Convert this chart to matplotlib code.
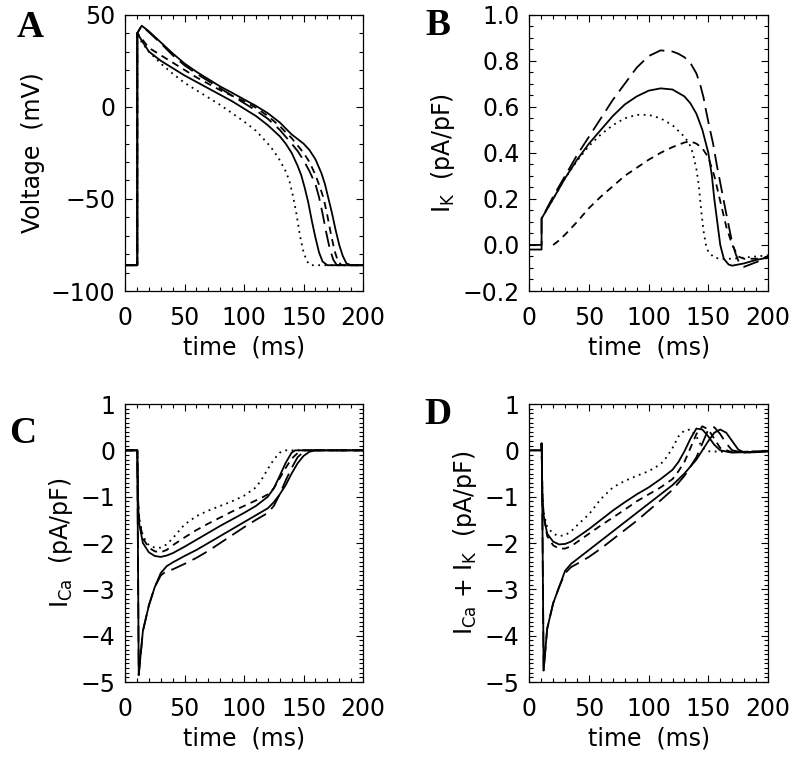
import numpy as np
import matplotlib
matplotlib.use('Agg')
import matplotlib.pyplot as plt
from matplotlib.ticker import MultipleLocator

plt.rcParams['font.family'] = 'DejaVu Sans'
plt.rcParams['mathtext.fontset'] = 'dejavusans'

# line styles for the five model runs
SOLID = '-'
DOT = (0, (1, 2.5))
DASH = (0, (4, 3))
LDASH = (0, (9, 4))

# ---- panel A : voltage (mV) ----
tA_s2 = [0, 10.3, 10.3, 14, 20, 30, 40, 50, 60, 70, 80, 90, 100, 110, 120, 130, 140, 145, 150, 155, 160, 165, 168, 171, 174, 177, 180, 183, 186, 190, 200]
vA_s2 = [-86, -86, 40, 44, 41, 35, 29, 23.5, 19, 15, 11, 7.6, 4, 0.5, -3.5, -8.5, -15, -17.5, -20, -23.5, -28.5, -36, -42, -50, -58, -67, -75, -81, -85, -86, -86]
tA_s1 = [0, 10.3, 10.3, 14, 20, 30, 40, 50, 60, 70, 80, 90, 100, 110, 120, 130, 135, 140, 145, 148, 151, 154, 157, 160, 163, 166, 170, 200]
vA_s1 = [-86, -86, 40, 36, 30, 25, 21, 17, 13.5, 10, 6.5, 3, -1, -5, -10, -16, -20, -25, -32, -37, -44, -52, -62, -71, -79, -84, -86, -86]
tA_dot = [0, 10.3, 10.3, 14, 20, 30, 40, 50, 60, 70, 80, 90, 100, 110, 120, 125, 130, 135, 138, 141, 144, 147, 150, 153, 156, 200]
vA_dot = [-86, -86, 40, 35, 30, 23.5, 18, 13, 9, 5, 1, -3.5, -8, -13, -20, -24, -29, -35, -40, -48, -58, -70, -79, -84, -86, -86]
tA_ld = [0, 10.3, 10.3, 14, 20, 30, 40, 50, 60, 70, 80, 90, 100, 110, 120, 130, 140, 145, 150, 155, 160, 163, 166, 169, 172, 175, 178, 200]
vA_ld = [-86, -86, 40, 44, 40.5, 34.5, 28, 22.5, 18, 14, 10, 6, 2, -2, -6.5, -12.5, -20, -24, -29, -35, -42, -49, -58, -68, -77, -83, -86, -86]
tA_d = [0, 10.3, 10.3, 14, 20, 30, 40, 50, 60, 70, 80, 90, 100, 110, 120, 130, 140, 145, 150, 155, 160, 164, 167, 170, 173, 176, 179, 182, 200]
vA_d = [-86, -86, 40, 37, 32, 28, 24, 20, 16, 12.5, 9, 6, 3, -0.5, -5, -10.5, -17, -21, -25, -30, -37, -44, -50, -59, -69, -78, -84, -86, -86]

# ---- panel B : I_K (pA/pF) ----
tB_s = [0, 10.3, 10.3, 20, 30, 40, 50, 60, 70, 80, 90, 100, 110, 120, 130, 135, 140, 145, 150, 153, 155, 158, 160, 163, 167, 170, 180, 190, 200]
vB_s = [-0.02, -0.02, 0.115, 0.2, 0.29, 0.37, 0.44, 0.5, 0.56, 0.61, 0.645, 0.67, 0.68, 0.675, 0.645, 0.615, 0.57, 0.5, 0.4, 0.3, 0.2, 0.08, 0.0, -0.06, -0.085, -0.09, -0.08, -0.065, -0.055]
tB_ld = [0, 10.3, 10.3, 20, 30, 40, 50, 60, 70, 80, 90, 100, 110, 120, 125, 130, 135, 140, 143, 146, 148, 151, 154, 157, 160, 165, 170, 173, 176, 180, 190, 200]
vB_ld = [0.0, 0.0, 0.115, 0.21, 0.3, 0.39, 0.47, 0.55, 0.63, 0.7, 0.77, 0.82, 0.845, 0.84, 0.83, 0.815, 0.79, 0.745, 0.7, 0.64, 0.585, 0.51, 0.44, 0.35, 0.27, 0.136, 0.01, -0.04, -0.08, -0.095, -0.075, -0.055]
tB_dot = [10.3, 20, 30, 40, 50, 60, 70, 80, 90, 100, 110, 120, 130, 134, 137, 140, 142, 144, 146, 148, 150, 155, 160, 170, 180, 190, 200]
vB_dot = [0.115, 0.2, 0.29, 0.365, 0.43, 0.48, 0.52, 0.55, 0.565, 0.565, 0.55, 0.52, 0.47, 0.44, 0.4, 0.33, 0.26, 0.15, 0.06, 0.0, -0.03, -0.055, -0.06, -0.06, -0.055, -0.05, -0.045]
tB_d = [20, 25, 30, 40, 50, 60, 70, 80, 90, 100, 110, 120, 130, 135, 140, 145, 150, 155, 160, 165, 170, 175, 180, 190, 200]
vB_d = [0.0, 0.02, 0.045, 0.1, 0.16, 0.21, 0.255, 0.3, 0.335, 0.37, 0.4, 0.425, 0.445, 0.45, 0.44, 0.42, 0.38, 0.3, 0.19, 0.08, 0.0, -0.05, -0.06, -0.06, -0.055]

# ---- panel C : I_Ca (pA/pF) ----
tC_s2 = [0, 10.3, 10.3, 11.5, 15, 20, 25, 30, 35, 40, 50, 60, 70, 80, 90, 100, 110, 120, 125, 130, 135, 140, 145, 150, 155, 160, 165, 200]
vC_s2 = [0, 0, 0, -4.85, -3.9, -3.35, -2.95, -2.65, -2.5, -2.42, -2.28, -2.15, -2.0, -1.85, -1.7, -1.55, -1.4, -1.25, -1.12, -0.95, -0.75, -0.5, -0.28, -0.12, -0.03, 0, 0, 0]
tC_ld = [0, 10.3, 11.5, 15, 20, 25, 30, 35, 40, 50, 60, 70, 80, 90, 100, 110, 120, 125, 130, 135, 140, 145, 150, 153, 200]
vC_ld = [0, 0, -4.85, -3.9, -3.35, -2.95, -2.7, -2.6, -2.57, -2.45, -2.32, -2.17, -2.0, -1.83, -1.66, -1.5, -1.35, -1.2, -0.95, -0.65, -0.38, -0.15, -0.03, 0, 0]
tC_s1 = [0, 10.3, 11, 12, 15, 20, 25, 30, 35, 40, 50, 60, 70, 80, 90, 100, 110, 115, 120, 125, 130, 135, 140, 143, 200]
vC_s1 = [0, 0, -1.2, -1.6, -2.0, -2.2, -2.28, -2.3, -2.27, -2.22, -2.08, -1.93, -1.78, -1.63, -1.49, -1.35, -1.2, -1.1, -1.0, -0.82, -0.55, -0.27, -0.05, 0, 0]
tC_dot = [0, 10.3, 11, 12, 15, 20, 25, 30, 35, 40, 50, 60, 70, 80, 90, 100, 110, 115, 120, 125, 130, 135, 200]
vC_dot = [0, 0, -1.1, -1.5, -1.85, -2.05, -2.1, -2.1, -2.03, -1.9, -1.6, -1.42, -1.3, -1.2, -1.1, -0.98, -0.8, -0.62, -0.4, -0.2, -0.05, 0, 0]
tC_d = [0, 10.3, 11, 12, 15, 20, 25, 30, 35, 40, 50, 60, 70, 80, 90, 100, 110, 115, 120, 125, 130, 135, 140, 145, 148, 200]
vC_d = [0, 0, -1.1, -1.5, -1.9, -2.1, -2.18, -2.2, -2.15, -2.05, -1.88, -1.72, -1.58, -1.45, -1.32, -1.2, -1.08, -1.02, -0.95, -0.82, -0.6, -0.38, -0.18, -0.06, 0, 0]

# ---- panel D : I_Ca + I_K (pA/pF) ----
tD_s2 = [0, 10.3, 10.3, 10.5, 12, 15, 20, 25, 30, 35, 40, 50, 60, 70, 80, 90, 100, 110, 120, 130, 140, 145, 150, 155, 160, 165, 170, 175, 180, 190, 200]
vD_s2 = [0, 0, 0.15, 0.15, -4.75, -3.85, -3.3, -2.95, -2.6, -2.45, -2.35, -2.15, -1.95, -1.75, -1.55, -1.35, -1.15, -0.95, -0.75, -0.5, -0.2, 0.0, 0.2, 0.38, 0.45, 0.38, 0.2, 0.02, -0.05, -0.04, -0.02]
tD_ld = [10.5, 12, 15, 20, 25, 30, 35, 40, 50, 60, 70, 80, 90, 100, 110, 120, 130, 140, 145, 150, 155, 160, 165, 170, 180, 190, 200]
vD_ld = [0.15, -4.75, -3.85, -3.3, -2.95, -2.65, -2.52, -2.45, -2.3, -2.12, -1.92, -1.72, -1.52, -1.3, -1.08, -0.85, -0.55, -0.15, 0.15, 0.45, 0.5, 0.35, 0.15, 0.0, -0.05, -0.03, -0.02]
tD_s1 = [0, 10.3, 10.3, 11, 12, 15, 20, 25, 30, 35, 40, 50, 60, 70, 80, 90, 100, 110, 120, 125, 130, 135, 140, 145, 150, 155, 160, 170, 180, 200]
vD_s1 = [0, 0, 0.15, -1.0, -1.4, -1.8, -1.97, -2.03, -2.02, -1.97, -1.88, -1.7, -1.5, -1.3, -1.12, -0.95, -0.8, -0.62, -0.42, -0.25, -0.02, 0.25, 0.47, 0.45, 0.3, 0.12, 0.0, -0.05, -0.04, -0.02]
tD_dot = [10.3, 11, 12, 15, 20, 25, 30, 35, 40, 50, 60, 70, 80, 90, 100, 110, 115, 120, 125, 130, 135, 140, 145, 150, 160, 170, 200]
vD_dot = [0.15, -1.0, -1.35, -1.65, -1.8, -1.85, -1.83, -1.75, -1.62, -1.38, -1.05, -0.8, -0.66, -0.55, -0.45, -0.3, -0.15, 0.05, 0.3, 0.43, 0.45, 0.3, 0.05, -0.02, -0.03, -0.03, -0.02]
tD_d = [10.3, 11, 12, 15, 20, 25, 30, 35, 40, 50, 60, 70, 80, 90, 100, 110, 120, 125, 130, 135, 140, 145, 150, 155, 160, 170, 180, 200]
vD_d = [0.15, -1.0, -1.4, -1.85, -2.05, -2.12, -2.12, -2.07, -1.98, -1.8, -1.62, -1.45, -1.28, -1.1, -0.95, -0.8, -0.62, -0.45, -0.25, 0.05, 0.35, 0.52, 0.45, 0.25, 0.05, -0.04, -0.03, -0.02]

panels = [
    ('A', [0.1563, 0.6191, 0.2975, 0.3617], (-100, 50), 10,
     [-100, -50, 0, 50], ['\u2212100', '\u221250', '0', '50'], 'Voltage  (mV)',
     [(tA_s2, vA_s2, SOLID), (tA_s1, vA_s1, SOLID), (tA_dot, vA_dot, DOT),
      (tA_ld, vA_ld, LDASH), (tA_d, vA_d, DASH)], (0.021, 0.964)),
    ('B', [0.6616, 0.6191, 0.2984, 0.3617], (-0.2, 1.0), 0.05,
     [-0.2, 0, 0.2, 0.4, 0.6, 0.8, 1.0], ['\u22120.2', '0.0', '0.2', '0.4', '0.6', '0.8', '1.0'],
     r'I$_{\rm K}$  (pA/pF)',
     [(tB_s, vB_s, SOLID), (tB_ld, vB_ld, LDASH), (tB_dot, vB_dot, DOT), (tB_d, vB_d, DASH)],
     (0.532, 0.966)),
    ('C', [0.1563, 0.1073, 0.2975, 0.3639], (-5, 1), 0.1,
     [-5, -4, -3, -2, -1, 0, 1], ['\u22125', '\u22124', '\u22123', '\u22122', '\u22121', '0', '1'],
     r'I$_{\rm Ca}$  (pA/pF)',
     [(tC_s2, vC_s2, SOLID), (tC_ld, vC_ld, LDASH), (tC_s1, vC_s1, SOLID),
      (tC_dot, vC_dot, DOT), (tC_d, vC_d, DASH)], (0.012, 0.433)),
    ('D', [0.6616, 0.1073, 0.2984, 0.3639], (-5, 1), 0.1,
     [-5, -4, -3, -2, -1, 0, 1], ['\u22125', '\u22124', '\u22123', '\u22122', '\u22121', '0', '1'],
     r'I$_{\rm Ca}$ + I$_{\rm K}$  (pA/pF)',
     [(tD_s2, vD_s2, SOLID), (tD_ld, vD_ld, LDASH), (tD_s1, vD_s1, SOLID),
      (tD_dot, vD_dot, DOT), (tD_d, vD_d, DASH)], (0.530, 0.457)),
]

fig = plt.figure(figsize=(8, 7.64), dpi=100)

for letter, pos, ylim, ymin, yt, ytl, ylab, curves, lpos in panels:
    ax = fig.add_axes(pos)
    for t, v, ls in curves:
        ax.plot(t, v, color='black', lw=1.3, linestyle=ls)
    ax.set_xlim(0, 200)
    ax.set_ylim(*ylim)
    ax.set_xticks([0, 50, 100, 150, 200])
    ax.xaxis.set_minor_locator(MultipleLocator(10))
    ax.set_yticks(yt)
    ax.set_yticklabels(ytl)
    ax.yaxis.set_minor_locator(MultipleLocator(ymin))
    ax.tick_params(which='both', direction='in', top=True, right=True,
                   labelsize=17, width=0.8)
    ax.tick_params(which='major', length=5)
    ax.tick_params(which='minor', length=3)
    ax.tick_params(axis='x', which='major', pad=11)
    ax.tick_params(axis='y', which='major', pad=7)
    for sp in ax.spines.values():
        sp.set_linewidth(0.9)
    ax.set_xlabel('time  (ms)', fontsize=17, labelpad=4)
    ax.set_ylabel(ylab, fontsize=17, labelpad=4)
    fig.text(lpos[0], lpos[1], letter, fontsize=27, fontweight='bold',
             family='Liberation Serif', ha='left', va='center')

fig.savefig('out.png', dpi=100)
